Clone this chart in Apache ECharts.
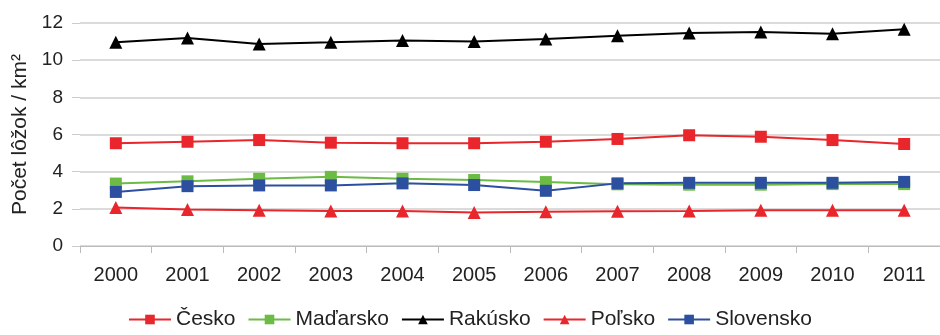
<!DOCTYPE html>
<html><head><meta charset="utf-8">
<script src="https://cdn.jsdelivr.net/npm/echarts@6/dist/echarts.min.js"></script>
<style>html,body{margin:0;padding:0;background:#fff}#c{width:940px;height:335px}</style>
</head><body><div id="c"></div>
<script>
const years = ['2000','2001','2002','2003','2004','2005','2006','2007','2008','2009','2010','2011'];
const cesko = [5.53,5.61,5.70,5.56,5.53,5.53,5.61,5.76,5.96,5.88,5.70,5.49];
const madarsko = [3.36,3.48,3.62,3.72,3.62,3.55,3.44,3.32,3.30,3.30,3.33,3.33];
const rakusko = [10.96,11.19,10.87,10.96,11.06,11.01,11.14,11.32,11.46,11.51,11.42,11.66];
const polsko = [2.07,1.96,1.93,1.89,1.89,1.80,1.84,1.87,1.89,1.93,1.93,1.93];
const slovensko = [2.91,3.22,3.26,3.26,3.37,3.28,2.97,3.37,3.40,3.40,3.40,3.45];
const yTicks = [0,2,4,6,8,10,12];

const font = 'Liberation Sans, Arial, sans-serif';
function ser(name, data, color, symbol, size){
  return {name, type:'line', data, symbol, symbolSize:size, showSymbol:true,
    lineStyle:{color, width:2}, itemStyle:{color}, emphasis:{disabled:true}};
}
const chart = echarts.init(document.getElementById('c'));
chart.setOption({
  animation:false,
  grid:{left:80, right:-13, top:23, bottom:89, containLabel:false},
  xAxis:{type:'category', data:years, boundaryGap:true,
    axisLine:{lineStyle:{color:'#bbb', width:1}},
    axisTick:{show:true, length:7, lineStyle:{color:'#bbb'}},
    axisLabel:{color:'#222', fontSize:20, fontFamily:font, margin:19}},
  yAxis:{type:'value', min:yTicks[0], max:yTicks[yTicks.length-1], interval:2,
    name:'Počet lôžok / km²', nameLocation:'middle', nameGap:48,
    nameTextStyle:{color:'#222', fontSize:21, fontFamily:font},
    axisLine:{show:false},
    axisTick:{show:true, length:8, lineStyle:{color:'#ccc'}},
    splitLine:{lineStyle:{color:'#cfcfcf', width:1.5}},
    axisLabel:{color:'#222', fontSize:19, fontFamily:font, margin:17}},
  legend:{bottom:0, left:'center', itemWidth:42, itemHeight:12, itemGap:12,
    textStyle:{color:'#222', fontSize:21, fontFamily:font}},
  series:[
    ser('Česko', cesko, '#e8262b', 'rect', 12),
    ser('Maďarsko', madarsko, '#6cbb45', 'rect', 12),
    ser('Rakúsko', rakusko, '#000000', 'triangle', 13),
    ser('Poľsko', polsko, '#e8262b', 'triangle', 13),
    ser('Slovensko', slovensko, '#2d4fa0', 'rect', 12)
  ]
});
</script></body></html>
